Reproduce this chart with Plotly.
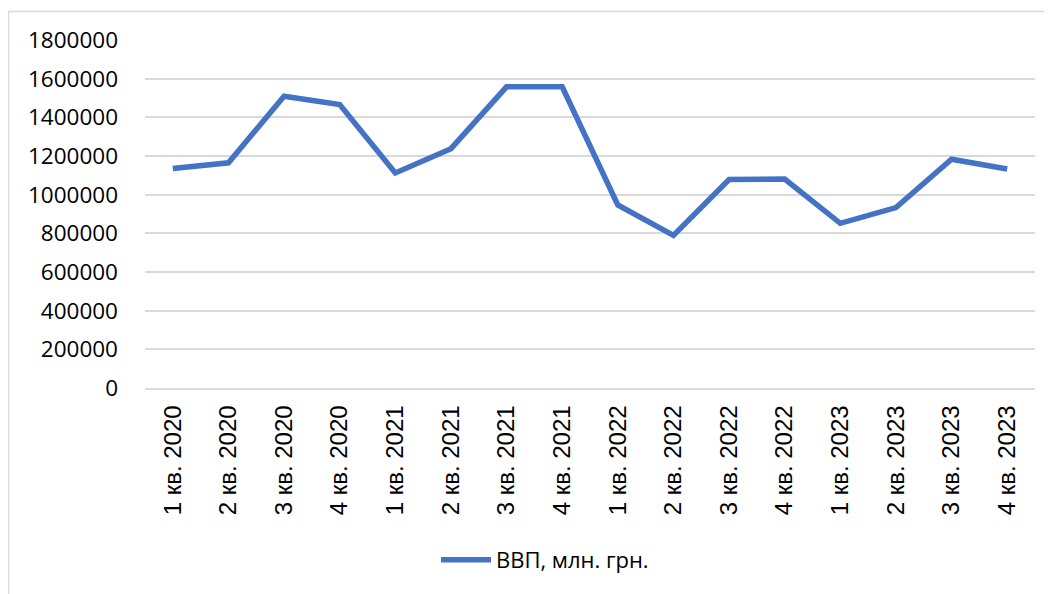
import plotly.graph_objects as go

categories = ["1 кв. 2020", "2 кв. 2020", "3 кв. 2020", "4 кв. 2020",
              "1 кв. 2021", "2 кв. 2021", "3 кв. 2021", "4 кв. 2021",
              "1 кв. 2022", "2 кв. 2022", "3 кв. 2022", "4 кв. 2022",
              "1 кв. 2023", "2 кв. 2023", "3 кв. 2023", "4 кв. 2023"]
gdp = [1135000, 1165000, 1509000, 1466000,
       1112000, 1238000, 1558000, 1558000,
       947000, 789000, 1078000, 1081000,
       852000, 933000, 1183000, 1133000]
series_name = "ВВП, млн. грн."
y_ticks = [0, 200000, 400000, 600000, 800000, 1000000, 1200000, 1400000, 1600000, 1800000]

OFF = 8  # page body margin
W, H = 1052 - OFF, 594 - OFF
L, T = 145 - OFF, 40 - OFF
R = W - (1035 - OFF)
B = H - (388 - OFF)
pw, ph = W - L - R, H - T - B


def px(x):
    return (x - OFF - L) / pw


def py(y):
    return ((T + ph) - (y - OFF)) / ph


fig = go.Figure()
fig.add_trace(go.Scatter(
    x=list(range(len(categories))), y=gdp, mode="lines", name=series_name,
    line=dict(color="#4472C4", width=5.5), showlegend=True,
))

border = dict(color="#d9d9d9", width=1.5)
fig.update_layout(
    width=W, height=H,
    margin=dict(l=L, r=R, t=T, b=B),
    paper_bgcolor="white", plot_bgcolor="white",
    font=dict(family="Open Sans, Liberation Sans, sans-serif", color="#000000"),
    showlegend=True,
    legend=dict(orientation="h", x=px(436), xanchor="left",
                y=py(560), yanchor="middle",
                font=dict(size=22, family="Open Sans, sans-serif"),
                itemwidth=50),
    shapes=[
        dict(type="line", xref="paper", yref="paper",
             x0=px(8), x1=px(1060), y0=py(11.5), y1=py(11.5),
             line=border, layer="below"),
        dict(type="line", xref="paper", yref="paper",
             x0=px(8.5), x1=px(8.5), y0=py(11.5), y1=py(600),
             line=border, layer="below"),
    ],
)
fig.update_xaxes(
    tickmode="array", tickvals=list(range(len(categories))), ticktext=categories,
    range=[-0.5, len(categories) - 0.5], tickangle=-90,
    tickfont=dict(family="Liberation Sans, Arial, sans-serif", size=24),
    showgrid=False, showline=True, linecolor="#d9d9d9", linewidth=1.5,
    ticks="", ticklabelstandoff=6, zeroline=False, automargin=False,
)
fig.update_yaxes(
    range=[0, 1800000], tickmode="array", tickvals=y_ticks,
    ticktext=[str(v) for v in y_ticks],
    tickfont=dict(family="Open Sans, sans-serif", size=22.5),
    showgrid=True, gridcolor="#d9d9d9", gridwidth=1.5,
    showline=False, zeroline=False, ticks="", ticklabelstandoff=26, automargin=False,
)

fig.write_html("out.html")
